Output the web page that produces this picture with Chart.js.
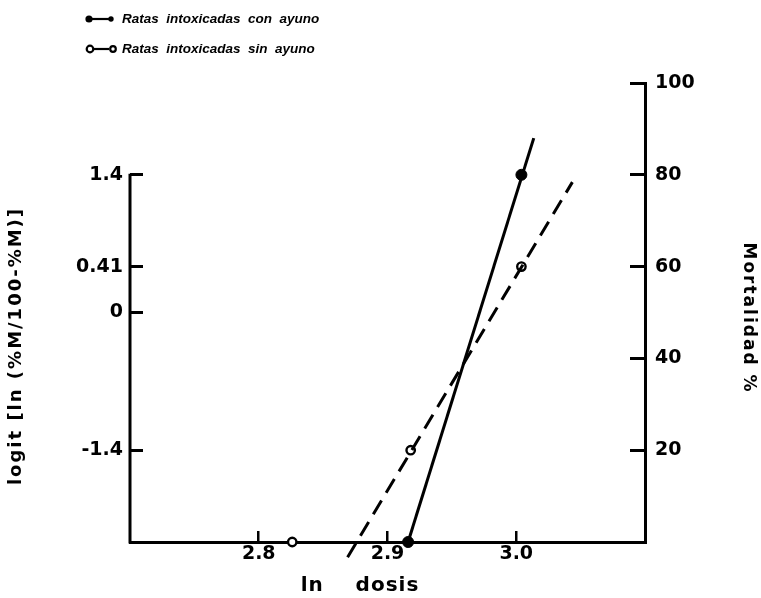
<!DOCTYPE html>
<html>
<head>
<meta charset="utf-8">
<script src="https://cdn.jsdelivr.net/npm/chart.js@4/dist/chart.umd.min.js"></script>
<style>
  body { margin: 0; background: #fff; }
  #wrap { width: 761px; height: 598px; }
</style>
</head>
<body>
<div id="wrap"><canvas id="chartMort" width="761" height="598"></canvas></div>
<script>
// ln dose vs mortality, fasted and non-fasted rats
var doseFasted = [2.916, 3.004];
var mortFasted = [0, 80];
var doseFed = [2.826, 2.918, 3.004];
var mortFed = [0, 20, 60];

// fitted lines (end points)
var fitFastedDose = [2.916, 3.0136];
var fitFastedMort = [0, 88];
var fitFedDose = [2.869, 3.0436];
var fitFedMort = [-3.3, 78.4];

var doseTicks = [2.8, 2.9, 3.0];
var mortTicks = [20, 40, 60, 80, 100];
var logitTicks = [20, 50, 60, 80];
var logitLabels = ['-1.4', '0', '0.41', '1.4'];

var legendLabels = ['Ratas  intoxicadas  con  ayuno', 'Ratas  intoxicadas  sin  ayuno'];

function toPoints(xs, ys) {
    var pts = [];
    for (var i = 0; i < xs.length; i++) {
        pts.push({ x: xs[i], y: ys[i] });
    }
    return pts;
}

var ink = '#000';
var tickFont = { family: 'DejaVu Sans', size: 19, weight: 'bold' };

// legend, axis titles and the short left axis line
var extras = {
    id: 'extras',
    afterDraw: function (chart) {
        var ctx = chart.ctx;
        var yl = chart.scales.yLogit;
        ctx.save();
        ctx.strokeStyle = ink;
        ctx.fillStyle = ink;

        // left axis only runs from 1.4 down to the base line
        ctx.lineWidth = 3;
        ctx.beginPath();
        ctx.moveTo(yl.right, yl.getPixelForValue(logitTicks[logitTicks.length - 1]) - 1);
        ctx.lineTo(yl.right, yl.getPixelForValue(0) + 1.5);
        ctx.stroke();

        // legend
        ctx.lineWidth = 2.2;
        ctx.beginPath(); ctx.moveTo(90, 19); ctx.lineTo(110, 19); ctx.stroke();
        ctx.beginPath(); ctx.arc(89, 19, 3.6, 0, Math.PI * 2); ctx.fill();
        ctx.beginPath(); ctx.arc(111, 19, 2.7, 0, Math.PI * 2); ctx.fill();

        ctx.beginPath(); ctx.moveTo(94, 49); ctx.lineTo(109, 49); ctx.stroke();
        ctx.beginPath(); ctx.arc(90, 49, 3.3, 0, Math.PI * 2); ctx.stroke();
        ctx.beginPath(); ctx.arc(113, 49, 2.8, 0, Math.PI * 2); ctx.stroke();

        ctx.font = 'italic bold 13.5px "Liberation Sans"';
        ctx.textAlign = 'left';
        ctx.textBaseline = 'middle';
        ctx.fillText(legendLabels[0], 122, 19);
        ctx.fillText(legendLabels[1], 122, 49);

        // x title
        ctx.font = 'bold 20px "DejaVu Sans"';
        ctx.textAlign = 'center';
        ctx.letterSpacing = '1px';
        ctx.fillText('ln    dosis', 360, 586);

        // left title
        ctx.save();
        ctx.translate(16, 346);
        ctx.rotate(-Math.PI / 2);
        ctx.font = 'bold 18px "DejaVu Sans"';
        ctx.letterSpacing = '2px';
        ctx.fillText('logit [ln (%M/100-%M)]', 0, 0);
        ctx.restore();

        // right title
        ctx.save();
        ctx.translate(748, 318);
        ctx.rotate(Math.PI / 2);
        ctx.font = 'bold 17px "DejaVu Sans"';
        ctx.letterSpacing = '2px';
        ctx.fillText('Mortalidad %', 0, 0);
        ctx.restore();

        ctx.restore();
    }
};

var chart1 = new Chart(document.getElementById('chartMort'), {
    type: 'scatter',
    data: {
        datasets: [{
            label: 'fit con ayuno',
            data: toPoints(fitFastedDose, fitFastedMort),
            showLine: true,
            borderColor: ink,
            borderWidth: 3,
            pointRadius: 0,
            clip: false
        }, {
            label: 'fit sin ayuno',
            data: toPoints(fitFedDose, fitFedMort),
            showLine: true,
            borderColor: ink,
            borderWidth: 3,
            borderDash: [16, 9],
            pointRadius: 0,
            clip: false
        }, {
            label: 'Ratas intoxicadas con ayuno',
            data: toPoints(doseFasted, mortFasted),
            backgroundColor: ink,
            borderColor: ink,
            pointRadius: 5.5,
            clip: false
        }, {
            label: 'Ratas intoxicadas sin ayuno',
            data: toPoints(doseFed, mortFed),
            backgroundColor: '#fff',
            borderColor: ink,
            borderWidth: 2.4,
            pointRadius: 4.2,
            clip: false
        }]
    },
    options: {
        responsive: false,
        animation: false,
        layout: { padding: { top: 83, left: 0, right: 0, bottom: 0 } },
        plugins: {
            legend: { display: false },
            tooltip: { enabled: false }
        },
        scales: {
            x: {
                type: 'linear',
                position: 'bottom',
                min: 2.7,
                max: 3.1,
                afterBuildTicks: function (scale) {
                    scale.ticks = doseTicks.map(function (v) { return { value: v }; });
                },
                afterFit: function (scale) { scale.height = 56; },
                ticks: {
                    color: ink,
                    font: tickFont,
                    padding: 12,
                    maxRotation: 0,
                    callback: function (v) { return Number(v).toFixed(1); }
                },
                grid: {
                    drawOnChartArea: false,
                    drawTicks: true,
                    tickLength: -11,
                    lineWidth: 2.5,
                    color: ink
                },
                border: { display: true, color: ink, width: 3 }
            },
            yLogit: {
                type: 'linear',
                position: 'left',
                min: 0,
                max: 100,
                afterBuildTicks: function (scale) {
                    scale.ticks = logitTicks.map(function (v) { return { value: v }; });
                },
                afterFit: function (scale) { scale.width = 130; },
                ticks: {
                    color: ink,
                    font: tickFont,
                    padding: 20,
                    callback: function (v) {
                        var i = logitTicks.indexOf(v);
                        return i >= 0 ? logitLabels[i] : '';
                    }
                },
                grid: {
                    drawOnChartArea: false,
                    drawTicks: true,
                    tickLength: -13,
                    lineWidth: 3,
                    color: ink
                },
                border: { display: false }
            },
            y: {
                type: 'linear',
                position: 'right',
                min: 0,
                max: 100,
                afterBuildTicks: function (scale) {
                    scale.ticks = mortTicks.map(function (v) { return { value: v }; });
                },
                afterFit: function (scale) { scale.width = 116; },
                ticks: {
                    color: ink,
                    font: tickFont,
                    padding: 25
                },
                grid: {
                    drawOnChartArea: false,
                    drawTicks: true,
                    tickLength: -15,
                    lineWidth: 3,
                    color: ink
                },
                border: { display: true, color: ink, width: 3 }
            }
        }
    },
    plugins: [extras]
});
</script>
</body>
</html>
